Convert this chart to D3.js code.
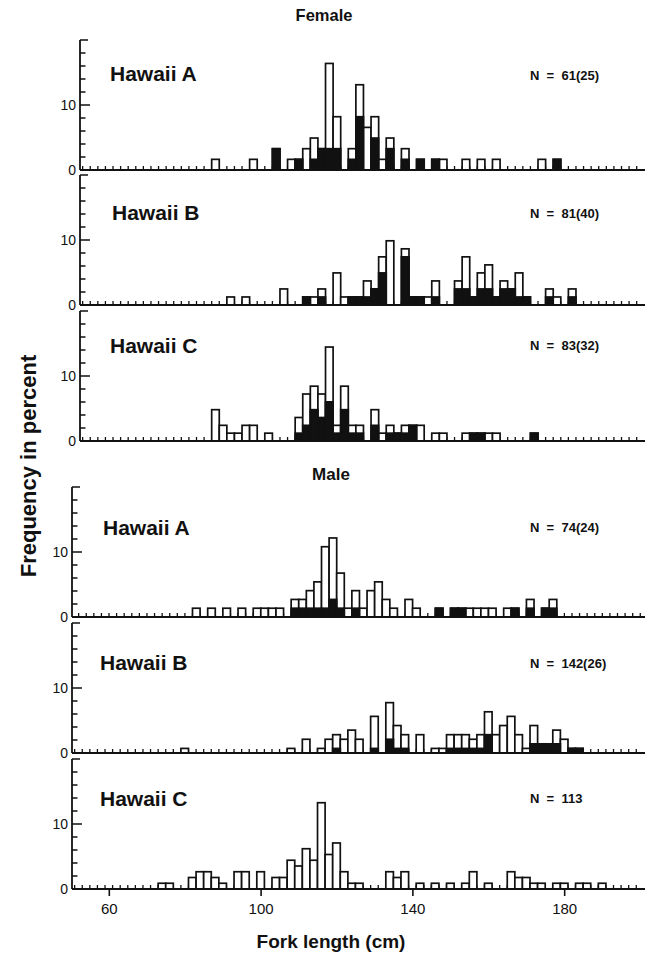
<!DOCTYPE html>
<html><head><meta charset="utf-8">
<script src="https://cdnjs.cloudflare.com/ajax/libs/d3/7.8.5/d3.min.js"></script>
<style>html,body{margin:0;padding:0;background:#fff}</style>
</head><body>
<script>
// ---------------- DATA (bin centre in cm, counts of fish; black = subset) ----------------
const panelNames = ["Hawaii A","Hawaii B","Hawaii C","Hawaii A","Hawaii B","Hawaii C"];
const panelNLabels = ["N = 61(25)","N = 81(40)","N = 83(32)","N = 74(24)","N = 142(26)","N = 113"];
const panelN = [61, 81, 83, 74, 142, 113];
const groupTitles = ["Female","Male"];
const xTickValues = [60, 100, 140, 180];
const yTickLabels = [0, 10];

const fA_bins  = [86,96,102,106,108,110,112,114,116,118,122,124,126,128,130,132,136,140,144,146,152,156,160,172,176];
const fA_total = [1, 1, 2,  1,  1,  2,  3,  2,  10, 5,  2,  8,  4,  5,  1,  3,  2,  1,  1,  1,  1,  1,  1,  1,  1];
const fA_black = [0, 0, 2,  0,  1,  0,  1,  2,  2,  2,  1,  5,  0,  3,  0,  2,  1,  1,  1,  0,  0,  0,  0,  0,  1];

const fB_bins  = [90,94,104,110,112,114,118,120,122,124,126,128,130,132,136,138,140,142,144,150,152,154,156,158,160,162,164,166,168,174,176,180];
const fB_total = [1, 1, 2,  1,  1,  2,  4,  1,  1,  1,  3,  2,  6,  8,  7,  1,  1,  1,  3,  3,  6,  1,  4,  5,  1,  3,  2,  4,  1,  2,  1,  2];
const fB_black = [0, 0, 0,  1,  0,  1,  0,  0,  1,  1,  1,  2,  4,  0,  6,  1,  1,  0,  1,  2,  2,  1,  2,  2,  1,  2,  2,  1,  1,  1,  0,  1];

const fC_bins  = [86,88,90,92,94,96,100,108,110,112,114,116,118,120,122,124,128,130,132,134,136,138,140,144,146,152,154,156,158,160,170];
const fC_total = [4, 2, 1, 1, 2, 2, 1,  3,  6,  7,  6,  12, 2,  7,  2,  2,  4,  1,  2,  1,  2,  2,  2,  1,  1,  1,  1,  1,  1,  1,  1];
const fC_black = [0, 0, 0, 0, 0, 0, 0,  1,  2,  4,  3,  5,  1,  4,  1,  1,  2,  0,  1,  1,  1,  2,  0,  0,  0,  0,  1,  1,  0,  0,  1];

const mA_bins  = [82,86,90,94,98,100,102,104,108,110,112,114,116,118,120,122,124,126,128,130,132,134,138,140,146,150,152,154,156,158,160,164,166,170,174,176];
const mA_total = [1, 1, 1, 1, 1, 1,  1,  1,  2,  2,  3,  4,  8,  9,  5,  1,  3,  1,  3,  4,  2,  1,  2,  1,  1,  1,  1,  1,  1,  1,  1,  1,  1,  2,  1,  2];
const mA_black = [0, 0, 0, 0, 0, 0,  0,  0,  1,  1,  1,  1,  1,  2,  1,  0,  1,  0,  0,  0,  0,  0,  0,  0,  1,  1,  1,  0,  0,  0,  0,  0,  1,  1,  1,  1];

const mB_bins  = [80,108,112,116,118,120,122,124,126,130,134,136,138,142,146,148,150,152,154,156,158,160,162,164,166,168,170,172,174,176,178,180,182,184];
const mB_total = [1, 1,  3,  1,  3,  4,  3,  5,  3,  8,  11, 6,  4,  4,  1,  1,  4,  4,  4,  3,  4,  9,  4,  6,  8,  4,  1,  6,  2,  2,  5,  3,  1,  1];
const mB_black = [0, 0,  0,  0,  0,  1,  0,  0,  0,  1,  3,  1,  1,  0,  0,  0,  1,  1,  1,  1,  1,  4,  0,  0,  0,  0,  0,  2,  2,  2,  2,  0,  1,  1];

const mC_bins  = [74,76,82,84,86,88,90,94,96,100,104,106,108,110,112,114,116,118,120,122,124,126,134,136,138,142,146,150,154,156,160,166,168,170,172,174,178,180,184,186,190];
const mC_total = [1, 1, 2, 3, 3, 2, 1, 3, 3, 3,  2,  2,  5,  4,  7,  5,  15, 6,  8,  3,  1,  1,  3,  2,  3,  1,  1,  1,  1,  3,  1,  3,  2,  2,  1,  1,  1,  1,  1,  1,  1];
const mC_black = mC_bins.map(() => 0);

// ---------------- LAYOUT ----------------
const W = 648, H = 956;
const FONT = "'Liberation Sans', Arial, Helvetica, sans-serif";
const panelH = 130;            // height of 0..20 %
const layout = [
  {base:170, shift:8, barShift:0, nameY:81,  nY:80,  nameX:110},
  {base:305, shift:8, barShift:0, nameY:220, nY:218, nameX:112},
  {base:441, shift:8, barShift:0, nameY:353, nY:350, nameX:110},
  {base:617, shift:0, barShift:4, nameY:535, nY:532, nameX:103},
  {base:753, shift:0, barShift:0, nameY:670, nY:668, nameX:100},
  {base:889, shift:0, barShift:0, nameY:806, nY:803, nameX:100}
];
const series = [
  [fA_bins,fA_total,fA_black],[fB_bins,fB_total,fB_black],[fC_bins,fC_total,fC_black],
  [mA_bins,mA_total,mA_black],[mB_bins,mB_total,mB_black],[mC_bins,mC_total,mC_black]
];
const xDomain = [50.3, 201.3];
const xRangeMale = [72, 645];
const rightEnd = 645;

const svg = d3.select("body").append("svg")
  .attr("width", W).attr("height", H)
  .style("background", "#fff")
  .style("font-family", FONT);

layout.forEach((L, i) => {
  const x = d3.scaleLinear().domain(xDomain).range([xRangeMale[0] + L.shift, xRangeMale[1] + L.shift]);
  const xb = d3.scaleLinear().domain(xDomain).range([xRangeMale[0] + L.shift + L.barShift, xRangeMale[1] + L.shift + L.barShift]);
  const y = d3.scaleLinear().domain([0, 20]).range([L.base, L.base - panelH]);
  const g = svg.append("g");
  const axisX = x(xDomain[0]);

  // minor bin ticks along the baseline (bin edges at odd cm)
  const edges = d3.range(51, 201, 2).filter(e => xb(e) > axisX + 2 && xb(e) < rightEnd - 1);
  g.selectAll("line.bt").data(edges).join("line")
    .attr("x1", d => xb(d)).attr("x2", d => xb(d))
    .attr("y1", L.base).attr("y2", L.base - 4)
    .attr("stroke", "#111").attr("stroke-width", 1.3);

  // bars
  const [bins, tot, blk] = series[i];
  const N = panelN[i];
  const data = bins.map((b, j) => ({b, t: tot[j] / N * 100, k: blk[j] / N * 100}));
  g.selectAll("rect.open").data(data).join("rect")
    .attr("x", d => xb(d.b - 1)).attr("width", d => xb(d.b + 1) - xb(d.b - 1))
    .attr("y", d => y(d.t)).attr("height", d => y(0) - y(d.t))
    .attr("fill", "#fff").attr("stroke", "#111").attr("stroke-width", 1.7);
  g.selectAll("rect.blk").data(data.filter(d => d.k > 0)).join("rect")
    .attr("x", d => xb(d.b - 1)).attr("width", d => xb(d.b + 1) - xb(d.b - 1))
    .attr("y", d => y(d.k)).attr("height", d => y(0) - y(d.k))
    .attr("fill", "#111").attr("stroke", "#111").attr("stroke-width", 1.7);

  // baseline
  g.append("line").attr("x1", axisX).attr("x2", rightEnd)
    .attr("y1", L.base).attr("y2", L.base)
    .attr("stroke", "#111").attr("stroke-width", 2.2);

  // y axis
  g.append("line").attr("x1", axisX).attr("x2", axisX)
    .attr("y1", y(20)).attr("y2", L.base)
    .attr("stroke", "#111").attr("stroke-width", 1.8);
  const yt = d3.range(2, 21, 2);
  g.selectAll("line.yt").data(yt).join("line")
    .attr("x1", axisX).attr("x2", d => axisX + (d === 10 ? 10 : d === 20 ? 8 : 5.5))
    .attr("y1", d => y(d)).attr("y2", d => y(d))
    .attr("stroke", "#111").attr("stroke-width", 1.5);
  g.selectAll("text.yl").data(yTickLabels).join("text")
    .attr("x", axisX - 4).attr("y", d => y(d) + 5)
    .attr("text-anchor", "end").attr("font-size", 14).attr("fill", "#111")
    .text(d => d);

  // panel labels
  g.append("text").attr("x", L.nameX).attr("y", L.nameY)
    .attr("font-size", 21).attr("font-weight", "bold").attr("fill", "#111")
    .text(panelNames[i]);
  g.append("text").attr("x", 530).attr("y", L.nY)
    .attr("font-size", 13).attr("font-weight", "bold").attr("fill", "#111")
    .attr("xml:space", "preserve").style("white-space", "pre")
    .text(panelNLabels[i].replace(" = ", "  =  "));

  // bottom x axis on last panel
  if (i === layout.length - 1) {
    const ax = d3.axisBottom(x).tickValues(xTickValues).tickSize(7).tickPadding(7).tickFormat(d3.format("d"));
    const axg = g.append("g").attr("transform", `translate(0,${L.base})`).call(ax);
    axg.select(".domain").remove();
    axg.selectAll(".tick line").attr("stroke", "#111").attr("stroke-width", 1.6);
    axg.selectAll(".tick text").attr("font-size", 15).attr("font-family", FONT).attr("fill", "#111");
  }
});

// group titles
svg.append("text").attr("x", 324).attr("y", 21).attr("text-anchor", "middle")
  .attr("font-size", 16.5).attr("font-weight", "bold").attr("fill", "#111").text(groupTitles[0]);
svg.append("text").attr("x", 331).attr("y", 480).attr("text-anchor", "middle")
  .attr("font-size", 17).attr("font-weight", "bold").attr("fill", "#111").text(groupTitles[1]);

// axis titles
svg.append("text").attr("transform", "translate(36,466) rotate(-90)").attr("text-anchor", "middle")
  .attr("font-size", 22).attr("font-weight", "bold").attr("fill", "#111").text("Frequency in percent");
svg.append("text").attr("x", 331).attr("y", 948).attr("text-anchor", "middle")
  .attr("font-size", 19).attr("font-weight", "bold").attr("fill", "#111").text("Fork length (cm)");
</script>
</body></html>
